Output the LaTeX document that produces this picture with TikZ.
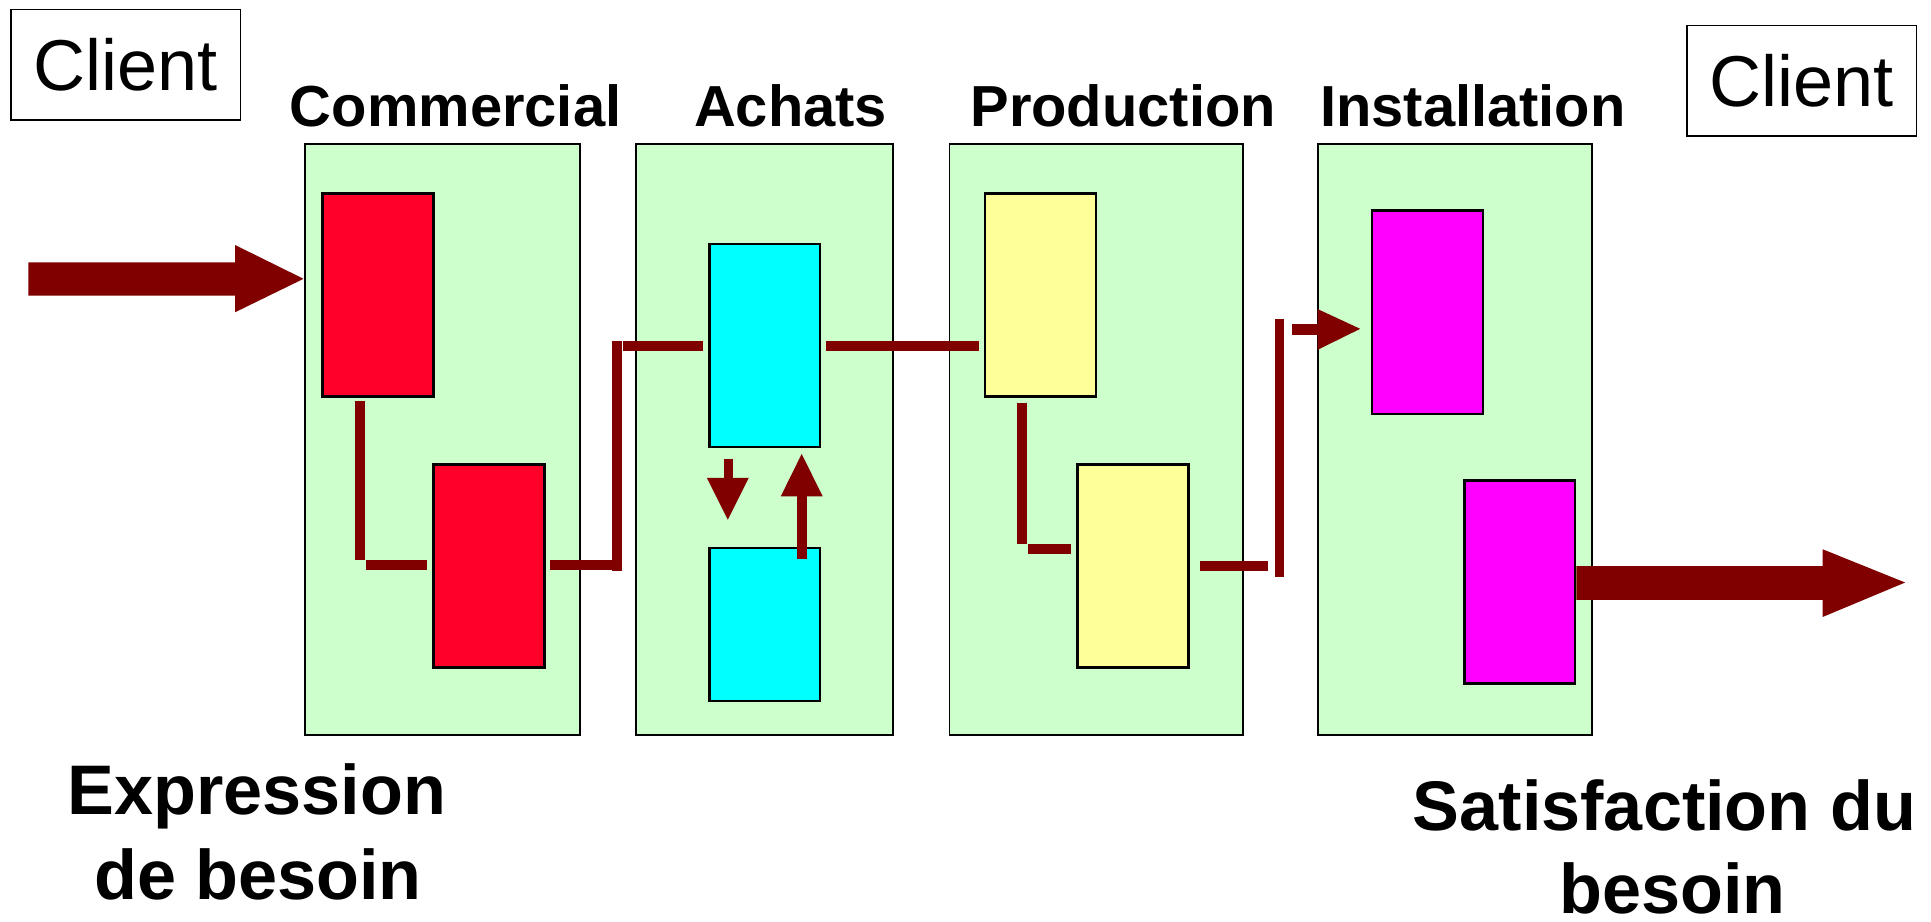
\documentclass[tikz,border=0pt]{standalone}
\usepackage{fontspec}
\setmainfont{Liberation Sans}
\definecolor{lanegreen}{HTML}{CCFFCC}
\definecolor{taskred}{HTML}{FF0029}
\definecolor{taskcyan}{HTML}{00FFFF}
\definecolor{taskyellow}{HTML}{FFFF99}
\definecolor{taskmag}{HTML}{FF00FF}
\definecolor{flowred}{HTML}{800000}
\begin{document}
\begin{tikzpicture}[x=1pt,y=-1pt,
  lane/.style={draw=black, line width=1.6pt, fill=lanegreen, anchor=north west,
    inner sep=0pt, outer sep=0pt, minimum height=480pt},
  task/.style={draw=black, line width=2pt, anchor=north west, inner sep=0pt,
    outer sep=0pt, minimum width=90pt, minimum height=165pt},
  clientbox/.style={draw=black, line width=1.5pt, anchor=north west, inner sep=0pt,
    minimum width=186.5pt, minimum height=89.5pt,
    font=\fontsize{58.5}{64}\selectfont},
  lbl/.style={anchor=base, inner sep=0pt, font=\fontsize{47}{56}\selectfont\bfseries},
  bigtxt/.style={anchor=base, inner sep=0pt, font=\fontsize{57}{65}\selectfont\bfseries},
  conn/.style={draw=flowred, line width=8pt, line cap=butt},
  blockarrow/.style={fill=flowred}
]
\useasboundingbox (0,0) rectangle (1568,748);

% clients
\node[clientbox] (c1) at (8,7) {Client};
\node[clientbox] (c2) at (1369,20) {Client};

% lane titles
\node[lbl] (t1) at (370,102.5) {Commercial};
\node[lbl] (t2) at (642,102.5) {Achats};
\node[lbl] (t3) at (912,102.5) {Production};
\node[lbl] (t4) at (1196,102.5) {Installation};

% lanes
\node[lane, minimum width=223pt] (g1) at (248,117) {};
\node[lane, minimum width=209pt] (g2) at (516.5,117) {};
\node[lane, minimum width=238pt] (g3) at (771,117) {};
\node[lane, minimum width=223pt] (g4) at (1070,117) {};

% tasks
\node[task, fill=taskred] (r1) at (262,157) {};
\node[task, fill=taskred] (r2) at (352,377) {};
\node[task, fill=taskcyan] (b1) at (576,198) {};
\node[task, fill=taskcyan, minimum height=124pt] (b2) at (576,445) {};
\node[task, fill=taskyellow] (y1) at (800,157) {};
\node[task, fill=taskyellow] (y2) at (875,377) {};
\node[task, fill=taskmag] (m1) at (1114,171) {};
\node[task, fill=taskmag] (m2) at (1189,390) {};

% connectors
\draw[conn] (292,326) -- (292,455);
\draw[conn] (297,459) -- (347,459);
\draw[conn] (447,459) -- (497,459);
\draw[conn] (501,277) -- (501,463.5);
\draw[conn] (506,281) -- (571,281);
\draw[conn] (671,281) -- (795,281);
\draw[conn] (591.6,372.5) -- (591.6,388.5);
\fill[blockarrow] (574,388) -- (608,388) -- (591,422) -- cycle;
\draw[conn] (651,454) -- (651,402.5);
\fill[blockarrow] (634,403) -- (668,403) -- (651,368.6) -- cycle;
\draw[conn] (830,327) -- (830,442);
\draw[conn] (835,446) -- (870,446);
\draw[conn] (974.6,459.5) -- (1029.7,459.5);
\draw[conn] (1039,259) -- (1039,468.5);
\draw[conn, line width=9pt] (1049,267.5) -- (1070.5,267.5);
\fill[blockarrow] (1070,251) -- (1070,284) -- (1104.5,267) -- cycle;

% big arrows
\fill[blockarrow] (23,213) -- (191,213) -- (191,199) -- (246.5,226.4) -- (191,253.5)
  -- (191,240) -- (23,240) -- cycle;
\fill[blockarrow] (1280,459.6) -- (1480,459.6) -- (1480,446) -- (1547,473) -- (1480,501)
  -- (1480,487) -- (1280,487) -- cycle;

% bottom texts
\node[bigtxt] (e1) at (208.5,661) {Expression};
\node[bigtxt] (e2) at (209.5,730) {de besoin};
\node[bigtxt] (s1) at (1351.5,674.5) {Satisfaction du};
\node[bigtxt, text depth=0pt] (s2) at (1358,742) {besoin};
\end{tikzpicture}
\end{document}
